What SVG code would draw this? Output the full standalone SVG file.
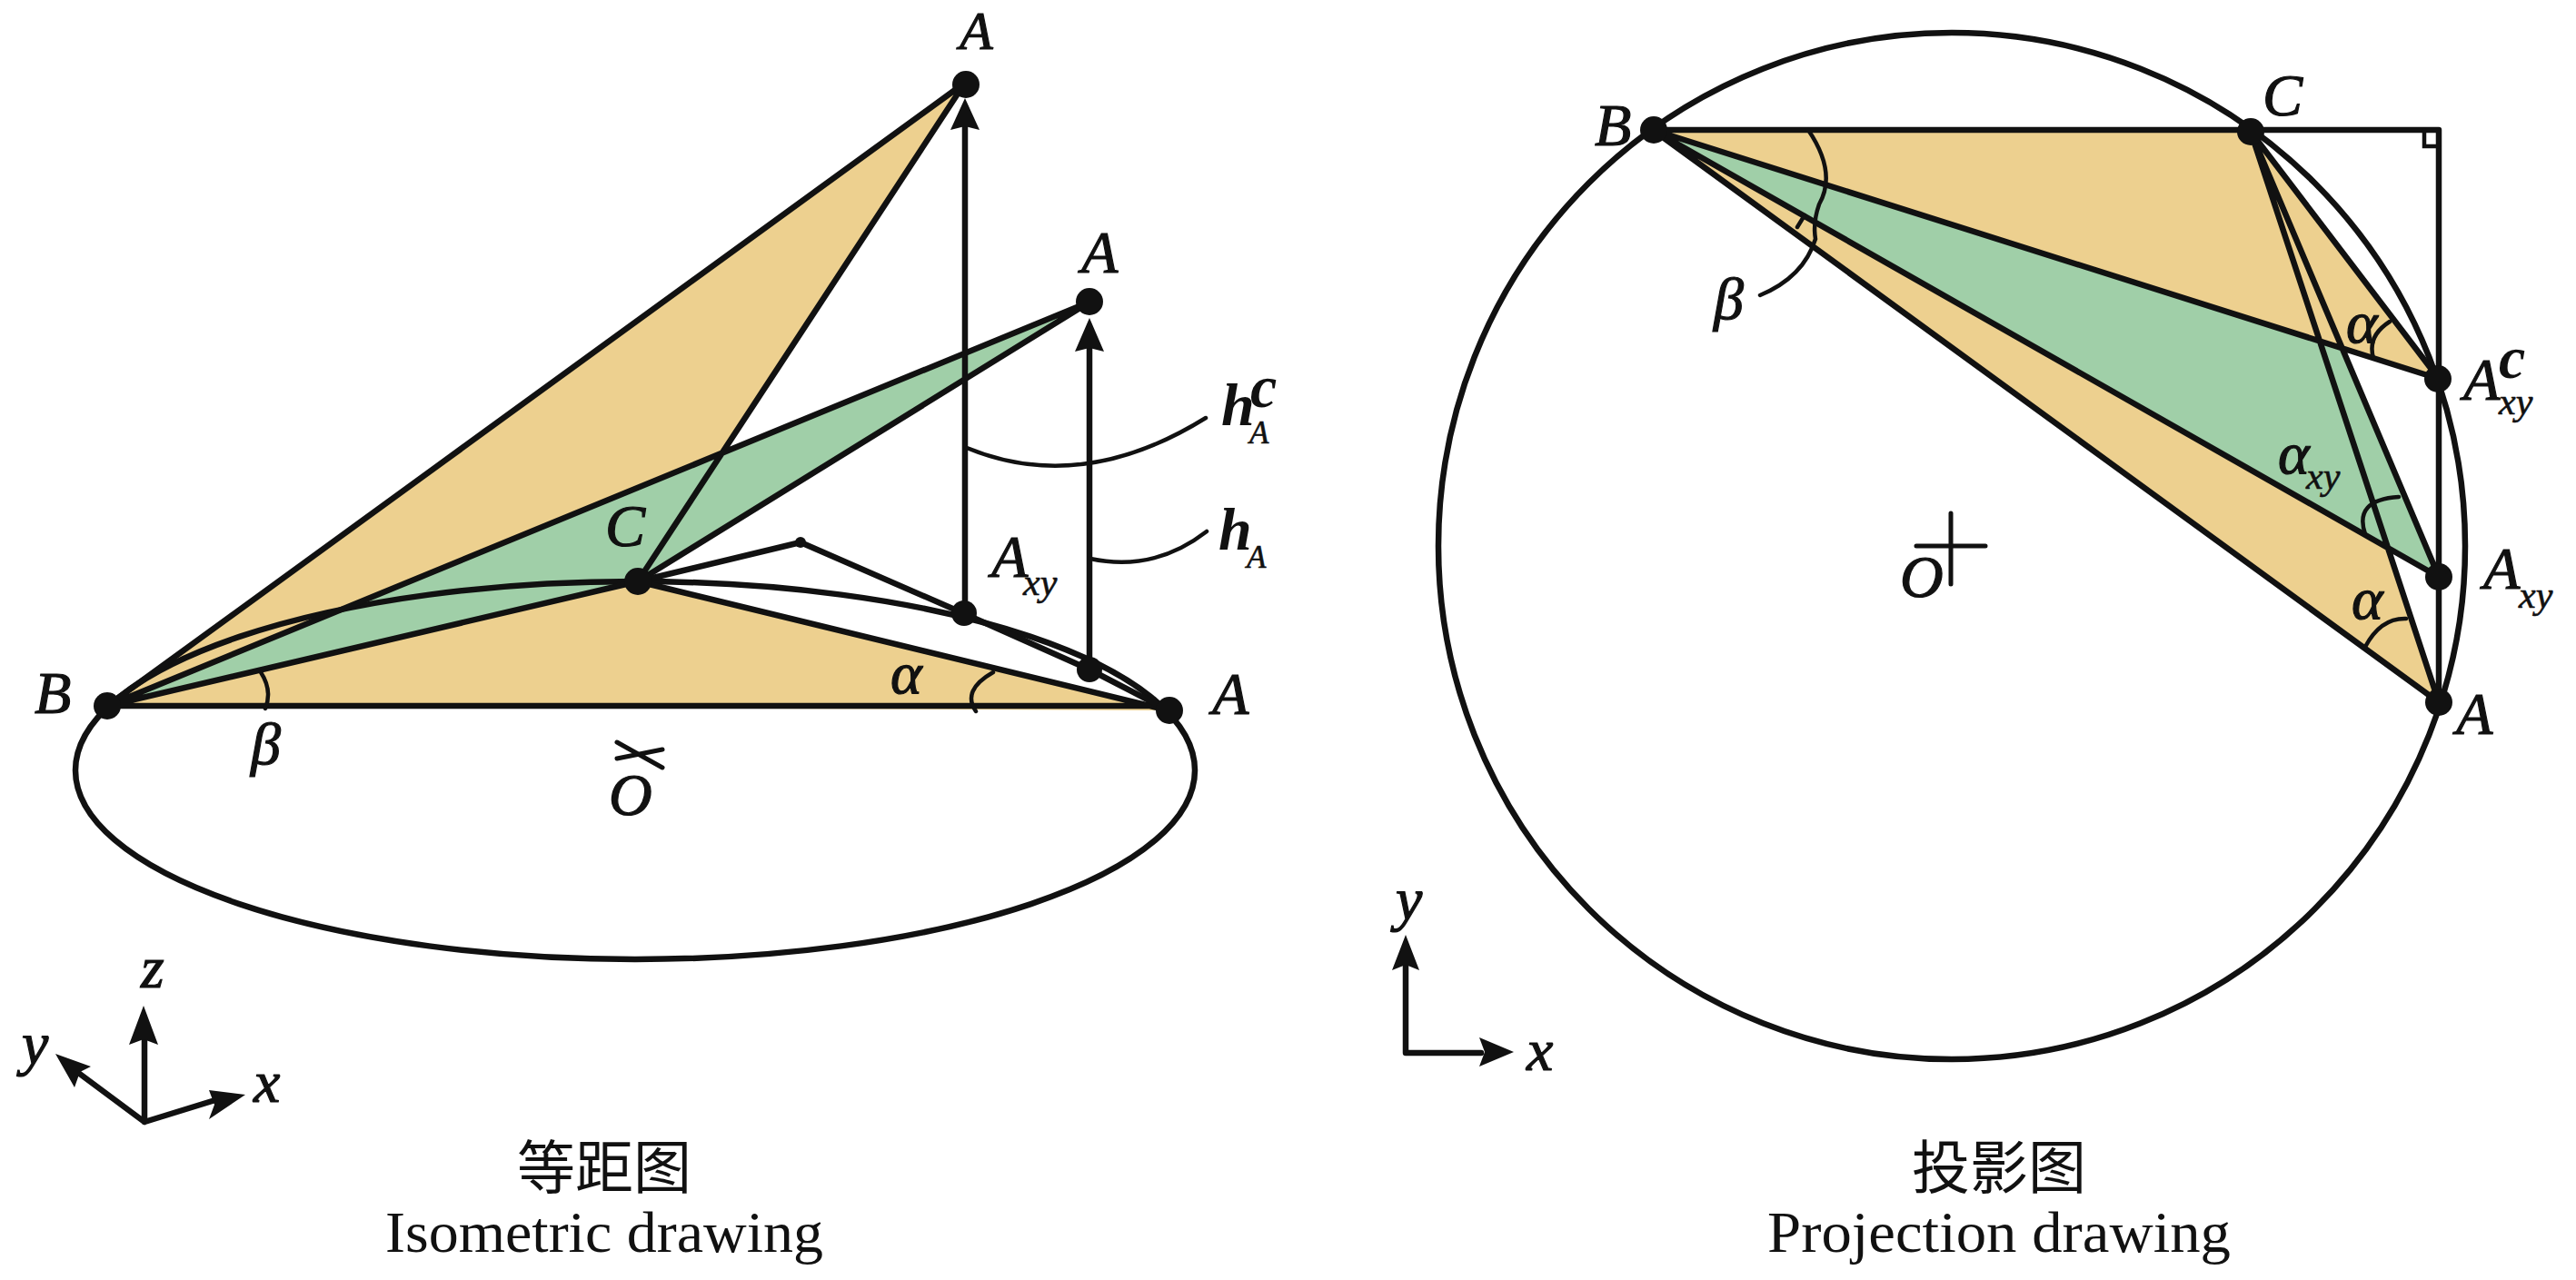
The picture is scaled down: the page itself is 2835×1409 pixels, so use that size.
<svg xmlns="http://www.w3.org/2000/svg" width="2835" height="1409" viewBox="0 0 2835 1409">
<style>
text{font-family:"Liberation Serif","Noto Sans CJK SC",serif;fill:#111}
.i{font-style:italic;font-size:66px;stroke:#111;stroke-width:1.2}
.s{font-style:italic;font-weight:normal;font-size:42px;stroke:#111;stroke-width:.6}
.sa{font-style:italic;font-weight:normal;font-size:35px;stroke:#111;stroke-width:.6}
.b{font-style:italic;font-weight:bold;font-size:66px}
.cap{font-size:64px;text-anchor:middle}
.o{fill:#EDD08F}
.g{fill:#A0CFA8}
.l{fill:none;stroke:#111;stroke-width:6.5;stroke-linejoin:round;stroke-linecap:round}
.t{fill:none;stroke:#111;stroke-width:4.5;stroke-linecap:round}
.h{fill:#111}
.d{fill:#111}
</style>
<rect width="2835" height="1409" fill="#fff"/>
<g id="fills-left">
<polygon class="o" points="118,777 702,640 1286,782"/>
<polygon class="o" points="118,777 1062,91 702,640"/>
<polygon class="g" points="118,777 1200,332 702,640"/>
</g>
<g id="fills-right">
<polygon class="o" points="1819,143 2477,145 2684,773"/>
<polygon class="g" points="1819,143 2477,145 2684,635"/>
<polygon class="o" points="1819,143 2477,145 2684,417"/>
</g>
<g id="connectors">
<ellipse class="l" cx="699" cy="848" rx="616" ry="208"/>
<path class="l" d="M118,777H1286M118,777L1062,91L702,640M118,777L1200,332L702,640M118,777L702,640L1286,782"/>
<path class="l" d="M702,640L881,597L1060,675L1199,737L1286,782"/>
<path class="l" d="M1062,120V675M1199,360V737"/>
<path class="t" d="M287,740Q300,760 292,780M1093,740Q1058,760 1074,783"/>
<path class="t" d="M1064,493Q1190,545 1327,460M1200,615Q1270,630 1328,585"/>
<path class="t" d="M679,817L729,845M679,835L729,825" style="stroke-width:5"/>
<path class="l" d="M159,1235V1140M159,1235L85,1180M159,1235L240,1210"/>
<circle class="l" cx="2148" cy="601" r="565"/>
<path class="l" d="M1819,143H2684V773M1819,143L2684,773M1819,143L2684,635M1819,143L2684,417M2477,145L2684,417M2477,145L2684,635M2477,145L2684,773"/>
<path class="t" d="M2668,143V161H2684"/>
<path class="t" d="M1990,143Q2022,190 2002,225Q1995,245 1998,263Q1985,305 1937,325M1986,237L1978,250M2630,354Q2605,370 2612,394M2648,681Q2620,680 2603,712M2640,547Q2590,550 2603,588"/>
<path class="t" d="M2109,601H2185M2147,565V643" style="stroke-width:5"/>
<path class="l" d="M1547,1159V1060M1547,1159H1630"/>
<polygon class="h" points="1062,108 1078,143 1062,139 1046,143"/>
<polygon class="h" points="1199,350 1215,387 1199,383 1183,387"/>
<polygon class="h" points="158,1107 174,1150 158,1144 142,1150"/>
<polygon class="h" points="61,1160 100,1174 88,1180 82,1197"/>
<polygon class="h" points="270,1205 230,1200 236,1216 230,1232"/>
<polygon class="h" points="1547,1029 1562,1068 1547,1062 1532,1068"/>
<polygon class="h" points="1666,1158 1628,1142 1634,1158 1628,1174"/>
</g>
<g id="node-left-A-top"><circle class="d" cx="1063" cy="93" r="15"/><text class="i" style="font-size:60px" x="1056" y="54">A</text></g>
<g id="node-left-A-second"><circle class="d" cx="1199" cy="332" r="15"/><text class="i" x="1190" y="300">A</text></g>
<g id="node-left-C"><circle class="d" cx="702" cy="640" r="15"/><text class="i" x="666" y="601">C</text></g>
<g id="node-left-B"><circle class="d" cx="118" cy="777" r="15"/><text class="i" x="38" y="785">B</text></g>
<g id="node-left-A"><circle class="d" cx="1287" cy="782" r="15"/><text class="i" x="1334" y="786">A</text></g>
<g id="node-left-Axy"><circle class="d" cx="1061" cy="675" r="14"/><text class="i" x="1091" y="635">A<tspan class="s" x="1126" y="655">xy</tspan></text></g>
<g id="node-left-Axy2"><circle class="d" cx="1199" cy="737" r="14"/></g>
<g id="node-left-peak"><circle class="d" cx="881" cy="597" r="6"/></g>
<g id="labels-left">
<text class="i" x="980" y="763">α</text>
<text class="i" x="276" y="841">β</text>
<text class="i" x="670" y="897">O</text>
<text class="b" x="1344" y="468">h<tspan x="1376" y="448">c</tspan><tspan class="sa" x="1375" y="488">A</tspan></text>
<text class="b" x="1341" y="605">h<tspan class="sa" x="1372" y="625">A</tspan></text>
<text class="i" x="155" y="1087">z</text>
<text class="i" x="24" y="1171">y</text>
<text class="i" x="279" y="1213">x</text>
</g>
<g id="node-right-B"><circle class="d" cx="1820" cy="143" r="15"/><text class="i" x="1755" y="160">B</text></g>
<g id="node-right-C"><circle class="d" cx="2477" cy="145" r="15"/><text class="i" x="2490" y="127">C</text></g>
<g id="node-right-Ac"><circle class="d" cx="2683" cy="417" r="15"/><text class="i" x="2711" y="440">A<tspan class="b" style="stroke:none" x="2750" y="416">c</tspan><tspan class="s" x="2750" y="456">xy</tspan></text></g>
<g id="node-right-Axy"><circle class="d" cx="2684" cy="635" r="15"/><text class="i" x="2733" y="648">A<tspan class="s" x="2772" y="669">xy</tspan></text></g>
<g id="node-right-A"><circle class="d" cx="2684" cy="773" r="15"/><text class="i" x="2703" y="808">A</text></g>
<g id="labels-right">
<text class="i" x="2582" y="377">α</text>
<text class="i" x="2507" y="521">α<tspan class="s" x="2538" y="538">xy</tspan></text>
<text class="i" x="2588" y="681">α</text>
<text class="i" x="1886" y="351">β</text>
<text class="i" x="2091" y="657">O</text>
<text class="i" x="1536" y="1012">y</text>
<text class="i" x="1680" y="1178">x</text>
</g>
<g id="captions">
<text class="cap" x="665" y="1308">等距图</text>
<text class="cap" x="665" y="1378" textLength="482" lengthAdjust="spacingAndGlyphs">Isometric drawing</text>
<text class="cap" x="2200" y="1308">投影图</text>
<text class="cap" x="2200" y="1378" textLength="510" lengthAdjust="spacingAndGlyphs">Projection drawing</text>
</g>
</svg>
